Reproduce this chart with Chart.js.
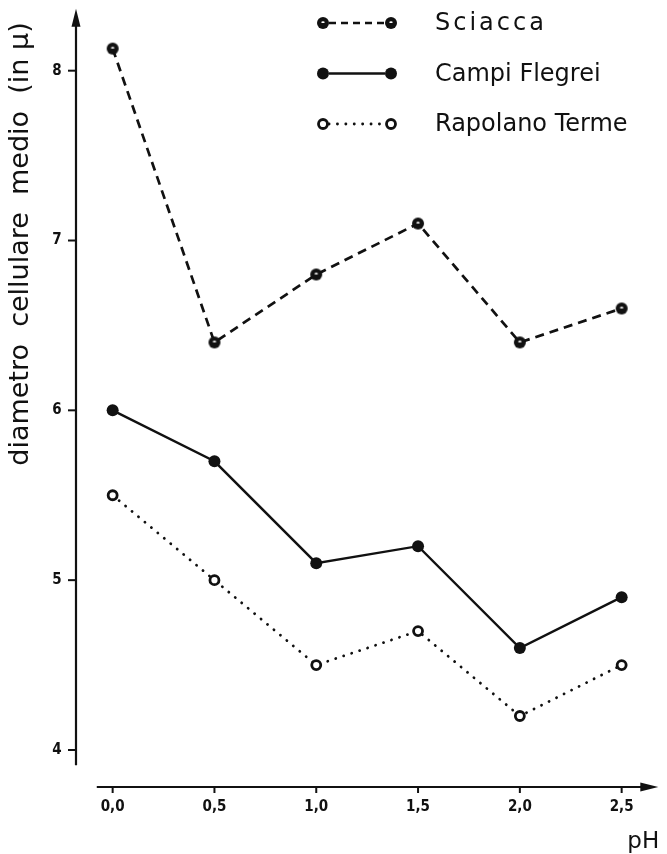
<!DOCTYPE html>
<html lang="it">
<head>
<meta charset="UTF-8">
<title>Diametro cellulare medio e pH</title>
<script src="https://cdn.jsdelivr.net/npm/chart.js"></script>
<style>
  html, body { margin: 0; padding: 0; background: #fff; }
  canvas { display: block; }
</style>
</head>
<body>
<canvas id="chart" width="667" height="854"></canvas>
<script>
// values
const phValues = [0, 0.5, 1, 1.5, 2, 2.5];
const phLabels = ['0,0', '0,5', '1,0', '1,5', '2,0', '2,5'];
const yTicks = [4, 5, 6, 7, 8];
const sciacca = [8.13, 6.4, 6.8, 7.1, 6.4, 6.6];
const campiFlegrei = [6.0, 5.7, 5.1, 5.2, 4.6, 4.9];
const rapolanoTerme = [5.5, 5.0, 4.5, 4.7, 4.2, 4.5];

const ink = '#111';

// black dot with a small white highlight, like the Sciacca marks
const sciaccaMarker = (function () {
    const c = document.createElement('canvas');
    c.width = 14; c.height = 14;
    const g = c.getContext('2d');
    g.fillStyle = ink;
    g.beginPath(); g.arc(7, 7, 6, 0, Math.PI * 2); g.fill();
    g.fillStyle = '#fff';
    g.beginPath(); g.ellipse(7, 6.2, 1.7, 0.9, 0, 0, Math.PI * 2); g.fill();
    return c;
})();

function points(values) {
    return values.map((v, i) => ({ x: phValues[i], y: v }));
}

function drawMarker(ctx, ds, x, y) {
    if (ds.pointStyle instanceof HTMLCanvasElement) {
        ctx.drawImage(ds.pointStyle, x - ds.pointStyle.width / 2, y - ds.pointStyle.height / 2);
        return;
    }
    ctx.beginPath();
    ctx.arc(x, y, ds.pointRadius, 0, Math.PI * 2);
    ctx.fillStyle = ds.pointBackgroundColor;
    ctx.fill();
    if (ds.pointBorderWidth) {
        ctx.lineWidth = ds.pointBorderWidth;
        ctx.strokeStyle = ds.pointBorderColor;
        ctx.stroke();
    }
}

const axesPlugin = {
    id: 'axesPlugin',
    beforeDatasetsDraw(chart) {
        const ctx = chart.ctx;
        const xs = chart.scales.x, ys = chart.scales.y;
        const area = chart.chartArea;
        ctx.save();
        ctx.strokeStyle = ink;
        ctx.fillStyle = ink;
        ctx.lineWidth = 2.2;

        // y axis with arrow
        const ax = area.left;
        ctx.beginPath();
        ctx.moveTo(ax, ys.getPixelForValue(3.91));
        ctx.lineTo(ax, area.top + 10);
        ctx.stroke();
        ctx.beginPath();
        ctx.moveTo(ax, area.top);
        ctx.lineTo(ax - 4.5, area.top + 18);
        ctx.lineTo(ax + 4.5, area.top + 18);
        ctx.closePath();
        ctx.fill();

        // x axis with arrow
        const ay = area.bottom;
        ctx.beginPath();
        ctx.moveTo(xs.getPixelForValue(-0.078), ay);
        ctx.lineTo(area.right - 10, ay);
        ctx.stroke();
        ctx.beginPath();
        ctx.moveTo(area.right, ay);
        ctx.lineTo(area.right - 18, ay - 4.5);
        ctx.lineTo(area.right - 18, ay + 4.5);
        ctx.closePath();
        ctx.fill();

        // ticks and labels
        ctx.lineWidth = 2;
        ctx.font = 'bold 15px "DejaVu Sans Condensed"';
        ctx.textAlign = 'center';
        ctx.textBaseline = 'middle';
        yTicks.forEach(t => {
            const py = ys.getPixelForValue(t);
            ctx.beginPath();
            ctx.moveTo(ax - 8, py);
            ctx.lineTo(ax, py);
            ctx.stroke();
            ctx.fillText(String(t), ax - 19, py);
        });
        phValues.forEach((v, i) => {
            const px = xs.getPixelForValue(v);
            ctx.beginPath();
            ctx.moveTo(px, ay);
            ctx.lineTo(px, ay + 6);
            ctx.stroke();
            ctx.fillText(phLabels[i], px, ay + 20);
        });

        // axis titles
        ctx.font = '23px "DejaVu Sans"';
        ctx.fillText('pH', area.right - 15, ay + 55);
        ctx.save();
        ctx.translate(21, 244);
        ctx.rotate(-Math.PI / 2);
        ctx.font = '27px "DejaVu Sans"';
        ctx.fillText('diametro  cellulare  medio  (in \u03bc)', 0, 0);
        ctx.restore();
        ctx.restore();
    },
    afterDraw(chart) {
        // legend: mark - line - mark, then the label
        const ctx = chart.ctx;
        ctx.save();
        chart.data.datasets.forEach((ds, i) => {
            const y = 23 + 50.5 * i;
            const x0 = 323, x1 = 391;
            ctx.strokeStyle = ink;
            ctx.lineWidth = ds.borderWidth;
            ctx.lineCap = ds.borderCapStyle || 'butt';
            ctx.setLineDash(ds.legendDash || ds.borderDash || []);
            ctx.beginPath();
            ctx.moveTo(x0 + 6, y);
            ctx.lineTo(x1 - 6, y);
            ctx.stroke();
            ctx.setLineDash([]);
            ctx.lineCap = 'butt';
            drawMarker(ctx, ds, x0, y);
            drawMarker(ctx, ds, x1, y);
            ctx.fillStyle = ink;
            ctx.font = '24px "DejaVu Sans"';
            ctx.textAlign = 'left';
            ctx.textBaseline = 'middle';
            ctx.letterSpacing = ds.legendSpacing || '0px';
            ctx.fillText(ds.label, 435, y + 1);
            ctx.letterSpacing = '0px';
        });
        ctx.restore();
    }
};

const chart = new Chart(document.getElementById('chart'), {
    type: 'line',
    data: {
        datasets: [{
            label: 'Sciacca',
            data: points(sciacca),
            borderColor: ink,
            borderWidth: 2.7,
            borderDash: [9, 6],
            legendDash: [7, 5],
            legendSpacing: '3px',
            pointStyle: sciaccaMarker,
            pointRadius: 6,
            clip: false
        }, {
            label: 'Campi Flegrei',
            data: points(campiFlegrei),
            borderColor: ink,
            borderWidth: 2.4,
            pointStyle: 'circle',
            pointRadius: 6,
            pointBackgroundColor: ink,
            pointBorderColor: ink,
            pointBorderWidth: 0,
            clip: false
        }, {
            label: 'Rapolano Terme',
            data: points(rapolanoTerme),
            borderColor: ink,
            borderWidth: 2.8,
            borderDash: [0.1, 8.3],
            borderCapStyle: 'round',
            pointStyle: 'circle',
            pointRadius: 4.5,
            pointBackgroundColor: '#fff',
            pointBorderColor: ink,
            pointBorderWidth: 2.8,
            clip: false
        }]
    },
    options: {
        responsive: false,
        animation: false,
        devicePixelRatio: 1,
        layout: {
            padding: { left: 76, right: 2, top: 8, bottom: 67 }
        },
        scales: {
            x: { type: 'linear', min: -0.18, max: 2.68, display: false },
            y: { type: 'linear', min: 3.782, max: 8.365, display: false }
        },
        elements: {
            line: { tension: 0 }
        },
        plugins: {
            legend: { display: false },
            tooltip: { enabled: false }
        }
    },
    plugins: [axesPlugin]
});
</script>
</body>
</html>
